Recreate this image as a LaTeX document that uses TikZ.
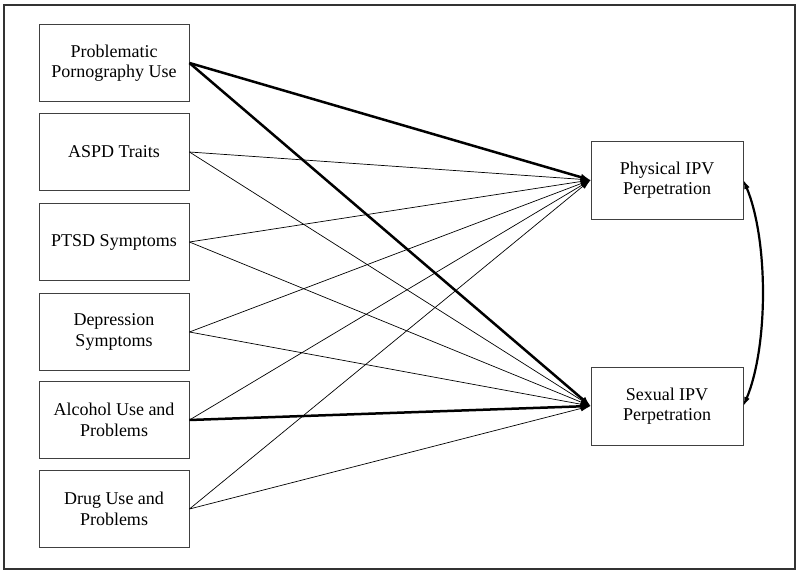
\documentclass[tikz,border=0pt]{standalone}
\usepackage{fontspec}
\setmainfont{Liberation Serif}
\usetikzlibrary{arrows.meta}
\begin{document}
\begin{tikzpicture}[x=1pt,y=1pt,
  box/.style={draw=black!75,line width=0.9pt,minimum width=150pt,minimum height=77pt,align=center,font=\fontsize{18}{20.5}\selectfont,inner sep=0pt},
  rbox/.style={box,minimum width=152pt,minimum height=78pt},
  thin/.style={line width=0.7pt,-{Latex[length=10pt,width=6pt]}},
  thick/.style={line width=2.5pt,-{Latex[length=10pt,width=7pt]}}]
\useasboundingbox (0,0) rectangle (800,573);
\draw[line width=1.3pt,black!80] (4,4) rectangle (795,568);
\node[box] (ppu) at (114,510) {Problematic\\Pornography Use};
\node[box] (aspd) at (114,421) {ASPD Traits};
\node[box] (ptsd) at (114,331) {PTSD Symptoms};
\node[box] (dep) at (114,241) {Depression\\Symptoms};
\node[box] (alc) at (114,153) {Alcohol Use and\\Problems};
\node[box] (drug) at (114,64) {Drug Use and\\Problems};
\node[rbox] (phys) at (667,393) {Physical IPV\\Perpetration};
\node[rbox] (sex) at (667,167) {Sexual IPV\\Perpetration};
\draw[thick] (ppu.east) -- (phys.west);
\draw[thick] (ppu.east) -- (sex.west);
\draw[thick] (alc.east) -- (sex.west);
\foreach \n in {aspd,ptsd,dep,alc,drug} \draw[thin] (\n.east) -- (phys.west);
\foreach \n in {aspd,ptsd,dep,drug} \draw[thin] (\n.east) -- (sex.west);
\draw[line width=2.2pt,{Latex[length=9pt,width=6pt]}-{Latex[length=9pt,width=6pt]}] (phys.east) .. controls +(25,-60) and +(25,60) .. (sex.east);
\end{tikzpicture}
\end{document}
